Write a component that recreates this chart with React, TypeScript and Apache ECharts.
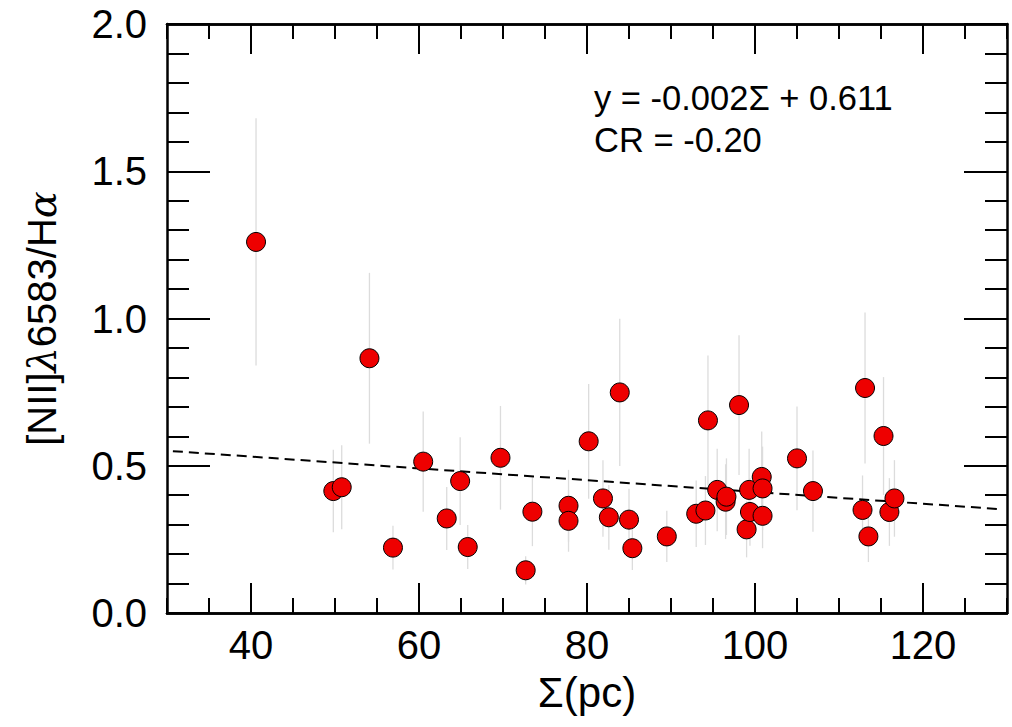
import React, { useEffect, useRef } from "react";
import * as echarts from "echarts";

const sigma = [40.6, 49.8, 50.8, 54.1, 56.9, 60.5, 63.3, 64.9, 65.8, 69.7, 72.7, 73.5, 77.8, 77.8, 80.2, 81.9, 82.6, 83.9, 85.0, 85.4, 89.5, 93.0, 94.1, 94.4, 95.5, 96.5, 96.6, 98.1, 99.0, 99.3, 99.4, 100.8, 100.9, 100.9, 105.0, 106.9, 112.8, 113.1, 113.5, 115.3, 116.0, 116.6];
const ratio = [1.26, 0.414, 0.427, 0.865, 0.222, 0.514, 0.321, 0.448, 0.224, 0.527, 0.145, 0.344, 0.364, 0.313, 0.583, 0.389, 0.325, 0.749, 0.317, 0.22, 0.26, 0.337, 0.348, 0.654, 0.418, 0.378, 0.395, 0.706, 0.284, 0.418, 0.343, 0.462, 0.423, 0.33, 0.525, 0.414, 0.35, 0.764, 0.26, 0.601, 0.343, 0.389];
const ratioErr = [0.42, 0.14, 0.143, 0.29, 0.074, 0.17, 0.107, 0.149, 0.075, 0.176, 0.048, 0.117, 0.122, 0.105, 0.195, 0.13, 0.11, 0.25, 0.105, 0.074, 0.087, 0.113, 0.117, 0.22, 0.14, 0.127, 0.13, 0.237, 0.095, 0.14, 0.115, 0.154, 0.142, 0.11, 0.176, 0.138, 0.117, 0.256, 0.087, 0.2, 0.115, 0.13];
const fitX = [30.7, 129];
const fitY = [0.5496, 0.353];
const xMajorTicks = [40, 60, 80, 100, 120];
const annotation = ["y = -0.002Σ + 0.611", "CR = -0.20"];

const FONT = "'Liberation Sans', Arial, Helvetica, sans-serif";

export default function App() {
  const ref = useRef<HTMLDivElement>(null);
  useEffect(() => {
    if (!ref.current) return;
    const chart = echarts.init(ref.current, undefined, { renderer: "svg" });
    const points = sigma.map((x, i) => [x, ratio[i]]);
    const errs = sigma.map((x, i) => [x, ratio[i], ratioErr[i]]);
    const fit = fitX.map((x, i) => [x, fitY[i]]);

    const xBase = {
      type: "value" as const,
      min: 30,
      max: 130,
      splitLine: { show: false },
      axisLine: { show: true, onZero: false, lineStyle: { color: "#000", width: 2.5 } },
    };
    const yBase = {
      type: "value" as const,
      min: 0,
      max: 2,
      interval: 0.5,
      splitLine: { show: false },
      axisLine: { show: true, onZero: false, lineStyle: { color: "#000", width: 2.5 } },
      axisTick: { show: true, inside: true, length: 43, lineStyle: { color: "#000", width: 2 } },
      minorTick: { show: true, splitNumber: 5, length: 22, lineStyle: { color: "#000", width: 2 } },
      minorSplitLine: { show: false },
    };
    const majorX = (pos: "bottom" | "top", labels: boolean) => ({
      ...xBase,
      position: pos,
      interval: 10,
      axisTick: { show: true, inside: true, length: 30, customValues: xMajorTicks, lineStyle: { color: "#000", width: 2 } },
      axisLabel: labels
        ? { show: true, customValues: xMajorTicks, fontSize: 40, color: "#000", fontFamily: FONT, margin: 12 }
        : { show: false },
    });
    const minorX = (pos: "bottom" | "top") => ({
      ...xBase,
      position: pos,
      interval: 5,
      axisTick: { show: true, inside: true, length: 15, lineStyle: { color: "#000", width: 2 } },
      axisLabel: { show: false },
    });

    chart.setOption({
      animation: false,
      backgroundColor: "#fff",
      grid: { left: 167, top: 24, right: 5, bottom: 114, containLabel: false },
      xAxis: [
        {
          ...majorX("bottom", true),
          name: "Σ(pc)",
          nameLocation: "middle",
          nameGap: 58,
          nameTextStyle: { fontSize: 42, color: "#000", fontFamily: FONT },
        },
        minorX("bottom"),
        majorX("top", false),
        minorX("top"),
      ],
      yAxis: [
        {
          ...yBase,
          position: "left",
          axisLabel: {
            show: true,
            fontSize: 40,
            color: "#000",
            fontFamily: FONT,
            margin: 20,
            formatter: (v: number) => v.toFixed(1),
          },
          name: "[NII]{i|λ}6583/H{i|α}",
          nameLocation: "middle",
          nameGap: 105,
          nameRotate: 90,
          nameTextStyle: {
            fontSize: 40,
            color: "#000",
            fontFamily: FONT,
            rich: {
              i: { fontSize: 40, color: "#000", fontStyle: "italic", fontFamily: "'DejaVu Serif', 'Liberation Serif', serif" },
            },
          },
        },
        { ...yBase, position: "right", axisLabel: { show: false } },
      ],
      graphic: [
        {
          type: "text",
          left: 594,
          top: 80,
          style: { text: annotation[0], fontSize: 34.5, fill: "#000", fontFamily: FONT },
        },
        {
          type: "text",
          left: 594,
          top: 122,
          style: { text: annotation[1], fontSize: 34.5, fill: "#000", fontFamily: FONT },
        },
      ],
      series: [
        {
          type: "custom",
          xAxisIndex: 0,
          yAxisIndex: 0,
          z: 1,
          data: errs,
          renderItem: (params: any, api: any) => {
            const x = api.value(0);
            const y = api.value(1);
            const e = api.value(2);
            const p1 = api.coord([x, y - e]);
            const p2 = api.coord([x, y + e]);
            return {
              type: "line",
              shape: { x1: p1[0], y1: p1[1], x2: p2[0], y2: p2[1] },
              style: { stroke: "#dcdcdc", lineWidth: 1.3 },
            };
          },
        },
        {
          type: "line",
          xAxisIndex: 0,
          yAxisIndex: 0,
          z: 2,
          data: fit,
          symbol: "none",
          lineStyle: { color: "#000", width: 2, type: [10, 6] },
        },
        {
          type: "scatter",
          xAxisIndex: 0,
          yAxisIndex: 0,
          z: 3,
          data: points,
          symbol: "circle",
          symbolSize: 19,
          itemStyle: { color: "#ee0000", borderColor: "#000", borderWidth: 1, opacity: 1 },
        },
      ],
    });
    return () => chart.dispose();
  }, []);
  return (
    <div
      ref={ref}
      style={{ position: "fixed", left: 0, top: 0, width: 1012, height: 727, background: "#fff" }}
    />
  );
}
